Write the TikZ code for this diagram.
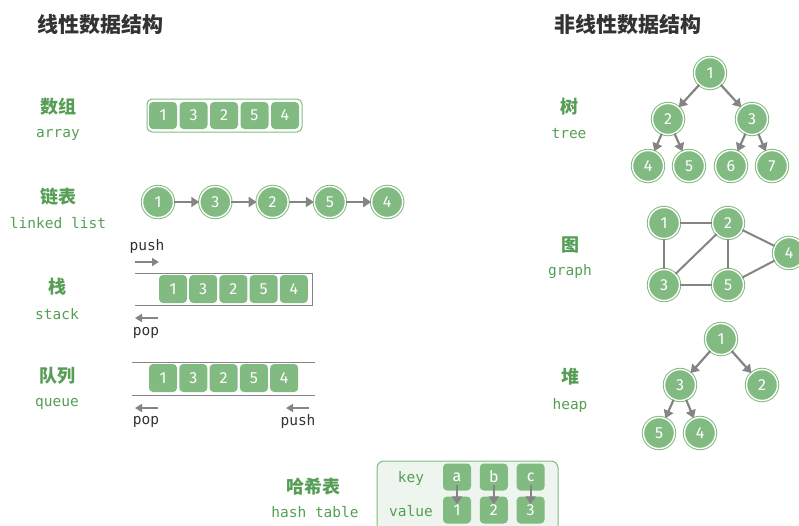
\documentclass[tikz,border=0pt]{standalone}
\usepackage{fontspec}
\setmainfont{DejaVu Sans}
\setmonofont{DejaVu Sans Mono}
\newfontfamily\cjk{Noto Sans CJK SC}
\newfontfamily\numf{Fira Sans}
\usetikzlibrary{arrows.meta}
\definecolor{ng}{RGB}{130,187,130}
\definecolor{lg}{RGB}{86,158,86}
\definecolor{gr}{RGB}{132,132,132}
\definecolor{tc}{RGB}{51,51,51}
\definecolor{hb}{RGB}{238,245,238}
\tikzset{
  circ/.style={circle, fill=ng, draw=ng, line width=1pt, double=white, double distance=1.4pt,
    minimum size=31pt, inner sep=0pt, text=white, font=\numf\fontsize{16}{18}\selectfont},
  cell/.style={rectangle, rounded corners=4pt, fill=ng, minimum width=28pt, minimum height=27pt,
    inner sep=0pt, text=white, font=\numf\fontsize{16}{18}\selectfont},
  arr/.style={draw=gr, line width=2.2pt, -{Triangle[length=8pt,width=10pt]}},
  sarr/.style={draw=gr, line width=1.8pt, -{Triangle[length=7pt,width=8pt]}},
  edge/.style={draw=gr, line width=2pt},
  ttl/.style={font=\cjk\bfseries\fontsize{21}{24}\selectfont, text=tc},
  lab/.style={font=\cjk\bfseries\fontsize{18}{20}\selectfont, text=lg},
  en/.style={font=\ttfamily\fontsize{14.5}{16}\selectfont, text=lg},
  op/.style={font=\ttfamily\fontsize{14.5}{16}\selectfont, text=tc},
  wall/.style={draw=gr, line width=1pt}
}
\begin{document}
\begin{tikzpicture}[x=1pt,y=-1pt]
\useasboundingbox (0,0) rectangle (799,525);
% titles
\node[ttl] (t1) at (100,25) {线性数据结构};
\node[ttl] (t2) at (628,25) {非线性数据结构};
% array
\node[lab] (la1) at (58,107) {数组};
\node[en] (la2) at (58,135) {array};
\draw[draw=ng, line width=1pt, rounded corners=5pt, fill=white] (147,99) rectangle (302,132);
\foreach \v [count=\i] in {1,3,2,5,4} \node[cell] (a\i) at ({163+30.5*(\i-1)},115.5) {\v};
% linked list
\node[lab] (lb1) at (58,197) {链表};
\node[en] (lb2) at (58,223) {linked list};
\foreach \v [count=\i] in {1,3,2,5,4} \node[circ] (l\i) at ({158+57.3*(\i-1)},202) {\v};
\foreach \i/\j in {1/2,2/3,3/4,4/5} \draw[arr] (l\i) -- (l\j);
% stack
\node[lab] (lc1) at (57,287) {栈};
\node[en] (lc2) at (57,314) {stack};
\draw[wall] (135,273) -- (312,273) -- (312,305) -- (135,305);
\foreach \v [count=\i] in {1,3,2,5,4} \node[cell, minimum height=28pt] (s\i) at ({173+30.2*(\i-1)},289) {\v};
\node[op] (push1) at (147,246) {push};
\coordinate (pa1) at (135,262); \coordinate (pa2) at (159,262);
\draw[sarr] (pa1) -- (pa2);
\coordinate (pb1) at (158,318); \coordinate (pb2) at (135,318);
\draw[sarr] (pb1) -- (pb2);
\node[op] (pop1) at (146,333) {pop};
% queue
\node[lab] (ld1) at (57,376) {队列};
\node[en] (ld2) at (57,404) {queue};
\draw[wall] (132,362) -- (315,362);
\draw[wall] (132,395) -- (315,395);
\foreach \v [count=\i] in {1,3,2,5,4} \node[cell, minimum height=28pt] (q\i) at ({163+30.3*(\i-1)},378) {\v};
\coordinate (pc1) at (158,408); \coordinate (pc2) at (135,408);
\draw[sarr] (pc1) -- (pc2);
\coordinate (pd1) at (309,408); \coordinate (pd2) at (286,408);
\draw[sarr] (pd1) -- (pd2);
\node[op] (pop2) at (146,422) {pop};
\node[op] (push2) at (298,421) {push};
% hash table
\node[lab] (le1) at (313,487) {哈希表};
\node[en] (le2) at (315,512) {hash table};
\draw[draw=ng, line width=1pt, fill=hb, rounded corners=7pt] (377,461) rectangle (558,540);
\node[en] (key) at (411,478) {key};
\node[en] (val) at (411,511) {value};
\foreach \k/\v [count=\i] in {a/1,b/2,c/3} {
  \node[cell] (k\i) at ({457+36.8*(\i-1)},477) {\k};
  \node[cell] (v\i) at ({457+36.8*(\i-1)},510) {\v};
}
\foreach \i in {1,2,3} \draw[arr] ([yshift=-8pt]k\i.center) -- ([yshift=-8pt]v\i.north);
% tree
\node[lab] (lf1) at (569,107) {树};
\node[en] (lf2) at (569,134) {tree};
\node[circ] (r1) at (710,73) {1};
\node[circ] (r2) at (668,119) {2};
\node[circ] (r3) at (752,119) {3};
\node[circ] (r4) at (648,166) {4};
\node[circ] (r5) at (689,166) {5};
\node[circ] (r6) at (731,166) {6};
\node[circ] (r7) at (772,166) {7};
\foreach \a/\b in {1/2,1/3,2/4,2/5,3/6,3/7} \draw[arr] (r\a) -- (r\b);
% graph
\node[lab] (lg1) at (570,245) {图};
\node[en] (lg2) at (570,272) {graph};
\node[circ] (g1) at (664,223) {1};
\node[circ] (g2) at (728,223) {2};
\node[circ] (g3) at (664,285) {3};
\node[circ] (g5) at (728,285) {5};
\node[circ] (g4) at (789,253) {4};
\foreach \a/\b in {1/2,1/3,2/3,2/5,3/5,2/4,5/4} \draw[edge] (g\a) -- (g\b);
% heap
\node[lab] (lh1) at (570,377) {堆};
\node[en] (lh2) at (570,405) {heap};
\node[circ] (h1) at (721,339) {1};
\node[circ] (h3) at (680,385) {3};
\node[circ] (h2) at (762,385) {2};
\node[circ] (h5) at (659,433) {5};
\node[circ] (h4) at (700,433) {4};
\foreach \a/\b in {1/3,1/2,3/5,3/4} \draw[arr] (h\a) -- (h\b);
\end{tikzpicture}
\end{document}
